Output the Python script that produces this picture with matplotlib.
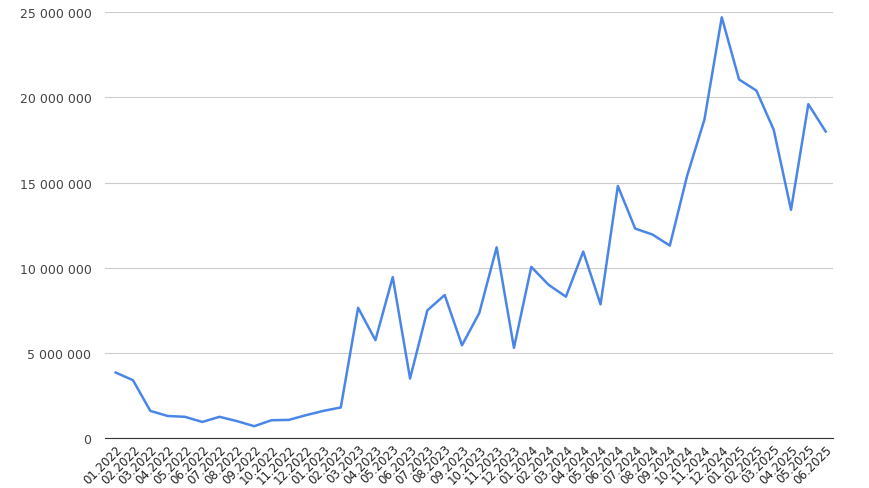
import matplotlib.pyplot as plt
from matplotlib.ticker import FuncFormatter

months = [f"{m:02d}.{y}" for y in (2022, 2023, 2024, 2025) for m in range(1, 13)][:42]
values = [3.85, 3.4, 1.6, 1.3, 1.25, 0.95, 1.25, 1.0, 0.7, 1.05, 1.07, 1.35,
          1.6, 1.8, 7.65, 5.75, 9.45, 3.5, 7.5, 8.4, 5.45, 7.35, 11.2, 5.3,
          10.05, 9.0, 8.3, 10.95, 7.85, 14.8, 12.3, 11.95, 11.3, 15.4, 18.7, 24.7,
          21.05, 20.4, 18.1, 13.4, 19.6, 18.0]
values = [v * 1e6 for v in values]

fig = plt.figure(figsize=(8.7, 4.89), dpi=100)
ax = fig.add_axes([0.121, 0.102, 0.836, 0.871])
ax.plot(range(len(values)), values, color='#4a86e8', lw=1.8)

ax.set_ylim(0, 25e6)
ax.set_xlim(-0.6, 41.4)
ax.set_yticks(range(0, 25_000_001, 5_000_000))
ax.yaxis.set_major_formatter(FuncFormatter(lambda v, p: f"{int(v):,}".replace(",", " ")))
ax.set_xticks(range(len(months)))
ax.set_xticklabels(months, rotation=45, ha='right', rotation_mode='anchor', fontsize=8.5, color='#222222')
ax.tick_params(axis='y', labelsize=9, colors='#444444', length=0, pad=10)
ax.tick_params(axis='x', length=0, pad=3)
ax.grid(axis='y', color='#cccccc', lw=0.8)
for s in ('top', 'right', 'left'):
    ax.spines[s].set_visible(False)
ax.spines['bottom'].set_color('#333333')

fig.savefig('out.png')
